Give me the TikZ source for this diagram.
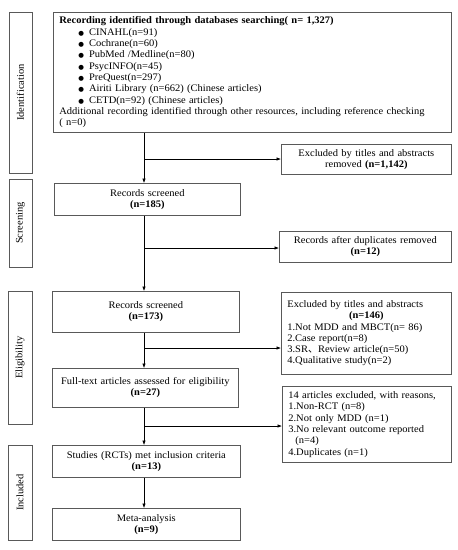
\documentclass[tikz,border=0pt]{standalone}
\usepackage{fontspec}
\setmainfont[FakeStretch=1.05]{Liberation Serif}
\newfontfamily\cjk{Noto Sans CJK SC}
\newfontfamily\dotfont{DejaVu Sans}
\usetikzlibrary{positioning,arrows.meta}

\tikzset{
	flowbox/.style={draw=black!65,line width=0.7pt,anchor=north west,inner xsep=4pt,inner ysep=2pt,align=center,font=\fontsize{10}{11.3}\selectfont},
	leftbox/.style={flowbox,align=left,inner xsep=6pt},
	stage/.style={draw=black!65,line width=0.7pt,rotate=90,inner sep=0pt,font=\fontsize{10}{11}\selectfont},
	flow/.style={-{Latex[length=4.5pt,width=3.5pt]},line width=0.6pt}
}
\newcommand{\dbitem}{\hspace*{19pt}{\dotfont\fontsize{6.5}{11.3}\selectfont ●}\hspace{5pt}}

\begin{document}
\begin{tikzpicture}[x=1pt,y=-1pt]
		\useasboundingbox (0,0) rectangle (458,550);
		\begin{scope}
			% stages on the left
			\node(ident) [stage,minimum width=161,minimum height=23] at (20.5,92.5) {Identification};
			\node(scrn) [stage,minimum width=88,minimum height=23] at (20.5,223) {Screening};
			\node(elig) [stage,minimum width=133,minimum height=24] at (20,357.5) {Eligibility};
			\node(inclu) [stage,minimum width=95,minimum height=24] at (20,492.5) {Included};
			% main column
			\node(search) [leftbox,text width=386,minimum height=120] at (53,12) {\textbf{Recording identified through databases searching( n= 1,327)}\\
				\dbitem CINAHL(n=91)\\
				\dbitem Cochrane(n=60)\\
				\dbitem PubMed /Medline(n=80)\\
				\dbitem PsycINFO(n=45)\\
				\dbitem PreQuest(n=297)\\
				\dbitem Airiti Library (n=662) (Chinese articles)\\
				\dbitem CETD(n=92) (Chinese articles)\\
				Additional recording identified through other resources, including reference checking\\
				( n=0)};
			\node(scr1) [flowbox,text width=178,minimum height=32] at (54,183) {Records screened\\ \textbf{(n=185)}};
			\node(scr2) [flowbox,text width=179,minimum height=41] at (52,291) {Records screened\\ \textbf{(n=173)}};
			\node(full) [flowbox,text width=178,minimum height=39] at (52,368) {Full-text articles assessed for eligibility\\ \textbf{(n=27)}};
			\node(incl) [flowbox,text width=180,minimum height=32] at (52,445) {Studies (RCTs) met inclusion criteria\\ \textbf{(n=13)}};
			\node(meta) [flowbox,text width=180,minimum height=32] at (52,508) {Meta-analysis\\ \textbf{(n=9)}};
			% exclusions on the right
			\node(excl1) [flowbox,text width=162,minimum height=30] at (281,144) {Excluded by titles and abstracts\\ removed \textbf{(n=1,142)}};
			\node(dup) [flowbox,text width=164,minimum height=31] at (279,231) {Records after duplicates removed\\ \textbf{(n=12)}};
			\node(excl3) [leftbox,text width=158,minimum height=82] at (281,292) {Excluded by titles and abstracts\\
				\hspace*{\fill}\textbf{(n=146)}\hspace*{\fill}\mbox{}\\
				1.Not MDD and MBCT(n= 86)\\
				2.Case report(n=8)\\
				3.SR{\cjk 、}Review article(n=50)\\
				4.Qualitative study(n=2)};
			\node(excl4) [leftbox,text width=157,minimum height=76] at (282,386) {14 articles excluded, with reasons,\\
				1.Non-RCT (n=8)\\
				2.Not only MDD (n=1)\\
				3.No relevant outcome reported\\
				\hspace*{7pt}(n=4)\\
				4.Duplicates (n=1)};
			% spine and branch points
			\coordinate(spine) at (144,0);
			\coordinate(b1) at (144,159);
			\coordinate(b2) at (144,248);
			\coordinate(b3) at (144,348);
			\coordinate(b4) at (144,426);
			\path[flow]
				(search.south -| spine) edge (scr1.north -| spine)
				(scr1.south -| spine) edge (scr2.north -| spine)
				(scr2.south -| spine) edge (full.north -| spine)
				(full.south -| spine) edge (incl.north -| spine)
				(incl.south -| spine) edge (meta.north -| spine)
				(b1) edge (excl1.west |- b1)
				(b2) edge (dup.west |- b2)
				(b3) edge (excl3.west |- b3)
				(b4) edge (excl4.west |- b4);
		\end{scope}
	\end{tikzpicture}
\end{document}
